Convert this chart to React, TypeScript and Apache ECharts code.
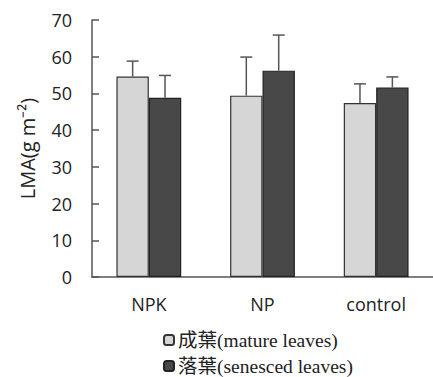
import React, { useEffect, useRef } from "react";
import * as echarts from "echarts";

const categories = ["NPK", "NP", "control"];
const seriesNames = ["成葉(mature leaves)", "落葉(senesced leaves)"];
const matureValues = [54.6, 49.4, 47.4];
const matureErrTop = [58.8, 59.9, 52.6];
const senescedValues = [48.8, 56.2, 51.6];
const senescedErrTop = [54.9, 65.9, 54.5];
const yTicks = { min: 0, max: 70, interval: 10 };

const BAR_RATIO = 0.285;

function errorSeries(values: number[], tops: number[], side: number) {
  return {
    type: "custom",
    silent: true,
    z: 3,
    data: values.map((v, i) => [i, v, tops[i]]),
    renderItem: (params: any, api: any) => {
      const idx = api.value(0);
      const base = api.coord([idx, api.value(1)]);
      const top = api.coord([idx, api.value(2)]);
      const band = api.size([1, 0])[0];
      const bw = band * BAR_RATIO;
      const x = base[0] + side * bw / 2;
      const cap = 6;
      const style = { stroke: "#555", lineWidth: 1.5 };
      return {
        type: "group",
        children: [
          { type: "line", shape: { x1: x, y1: base[1], x2: x, y2: top[1] }, style },
          { type: "line", shape: { x1: x - cap, y1: top[1], x2: x + cap, y2: top[1] }, style },
        ],
      };
    },
  };
}

const legendText = {
  fontFamily: "'Liberation Serif', 'Noto Sans CJK TC', serif",
  fontSize: 19.5,
  lineHeight: 20,
  color: "#222",
  padding: [0, 0, 0, -1],
};

export default function App() {
  const ref = useRef<HTMLDivElement>(null);
  useEffect(() => {
    const chart = echarts.init(ref.current!, null, { renderer: "svg" });
    chart.setOption({
      animation: false,
      backgroundColor: "#fff",
      grid: { left: 92, top: 20, width: 348, height: 257 },
      legend: [
        {
          left: 158,
          top: 325,
          padding: 5,
          itemWidth: 10,
          itemHeight: 10,
          data: [seriesNames[0]],
          textStyle: legendText,
        },
        {
          left: 158,
          top: 351,
          padding: 5,
          itemWidth: 10,
          itemHeight: 10,
          data: [seriesNames[1]],
          textStyle: legendText,
        },
      ],
      xAxis: {
        type: "category",
        data: categories,
        axisLine: { show: true, lineStyle: { color: "#555", width: 1.5 } },
        axisTick: { show: false },
        axisLabel: {
          margin: 18,
          fontFamily: "'Open Sans', sans-serif",
          fontSize: 18,
          color: "#222",
        },
      },
      yAxis: {
        type: "value",
        min: yTicks.min,
        max: yTicks.max,
        interval: yTicks.interval,
        name: "LMA(g m⁻²)",
        nameLocation: "middle",
        nameRotate: 90,
        nameGap: 55,
        nameTextStyle: {
          fontFamily: "'Open Sans', sans-serif",
          fontSize: 20,
          color: "#222",
        },
        splitLine: { show: false },
        axisLine: { show: true, lineStyle: { color: "#555", width: 1.5 } },
        axisTick: { show: true, inside: true, length: 7, lineStyle: { color: "#555", width: 1.5 } },
        axisLabel: {
          margin: 20,
          fontFamily: "'Open Sans', sans-serif",
          fontSize: 18,
          color: "#222",
        },
      },
      series: [
        {
          name: seriesNames[0],
          type: "bar",
          data: matureValues,
          barWidth: BAR_RATIO * 100 + "%",
          barGap: "0%",
          itemStyle: { color: "#d6d6d6", borderColor: "#333", borderWidth: 1.2 },
        },
        {
          name: seriesNames[1],
          type: "bar",
          data: senescedValues,
          barWidth: BAR_RATIO * 100 + "%",
          barGap: "0%",
          itemStyle: { color: "#484848", borderColor: "#222", borderWidth: 1.2 },
        },
        errorSeries(matureValues, matureErrTop, -1),
        errorSeries(senescedValues, senescedErrTop, 1),
      ],
    });
    return () => chart.dispose();
  }, []);
  return <div ref={ref} style={{ width: 433, height: 377, position: "absolute", left: 0, top: 0 }} />;
}
